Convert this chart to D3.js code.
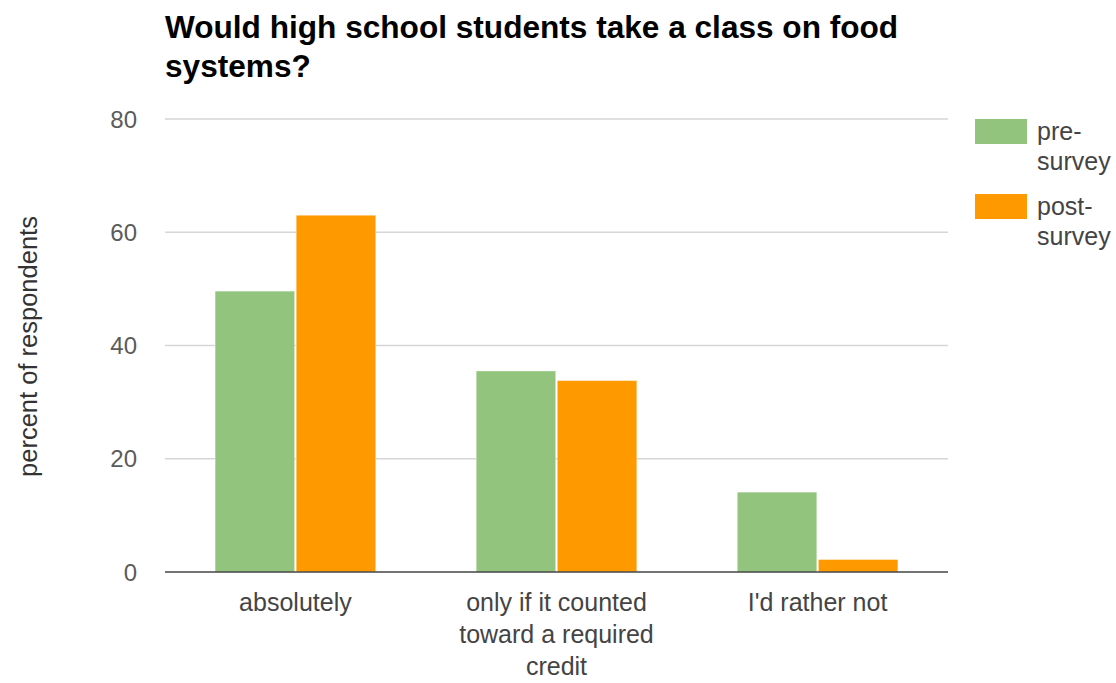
<!DOCTYPE html>
<html>
<head>
<meta charset="utf-8">
<script src="https://cdn.jsdelivr.net/npm/d3@7"></script>
<style>
  body { margin: 0; background: #fff; }
  text { font-family: "Liberation Sans", Arial, sans-serif; }
</style>
</head>
<body>
<div id="chart"></div>
<script>
const categories = ["absolutely", "only if it counted toward a required credit", "I'd rather not"];
const categoryLines = [["absolutely"], ["only if it counted", "toward a required", "credit"], ["I'd rather not"]];
const seriesNames = ["pre-survey", "post-survey"];
const legendLines = [["pre-", "survey"], ["post-", "survey"]];
const preSurvey = [49.6, 35.5, 14.1];
const postSurvey = [63, 33.8, 2.2];
const yTicks = [0, 20, 40, 60, 80];
const colors = ["#93c47d", "#ff9900"];

const width = 1116, height = 683;
const margin = {left: 165, right: 168, top: 119, bottom: 111};

const svg = d3.select("#chart").append("svg")
  .attr("width", width)
  .attr("height", height);

const x0 = d3.scaleBand()
  .domain(categories)
  .range([margin.left, width - margin.right])
  .paddingInner(0.385)
  .paddingOuter(0.192);

const x1 = d3.scaleBand()
  .domain(seriesNames)
  .range([0, x0.bandwidth()])
  .paddingInner(0.02);

const y = d3.scaleLinear()
  .domain([0, 80])
  .range([height - margin.bottom, margin.top]);

// gridlines
svg.append("g")
  .selectAll("line")
  .data(yTicks.filter(d => d !== 0))
  .enter()
  .append("line")
  .attr("x1", margin.left)
  .attr("x2", width - margin.right)
  .attr("y1", d => y(d))
  .attr("y2", d => y(d))
  .attr("stroke", "#d6d6d6")
  .attr("stroke-width", 1.5);

// y tick labels
svg.append("g")
  .selectAll("text")
  .data(yTicks)
  .enter()
  .append("text")
  .attr("x", 137)
  .attr("y", d => y(d))
  .attr("dy", "0.36em")
  .attr("text-anchor", "end")
  .attr("font-size", 24)
  .attr("fill", "#5b5b5b")
  .text(d => d);

// bars
const rows = categories.map((c, i) => ({cat: c, vals: [preSurvey[i], postSurvey[i]]}));
const group = svg.append("g")
  .selectAll("g")
  .data(rows)
  .enter()
  .append("g")
  .attr("transform", d => `translate(${x0(d.cat)},0)`);

group.selectAll("rect")
  .data(d => d.vals.map((v, j) => ({name: seriesNames[j], v: v, j: j})))
  .enter()
  .append("rect")
  .attr("x", d => x1(d.name))
  .attr("width", x1.bandwidth())
  .attr("y", d => y(d.v))
  .attr("height", d => y(0) - y(d.v))
  .attr("fill", d => colors[d.j])
  .attr("stroke", "#fff")
  .attr("stroke-opacity", 0.35)
  .attr("stroke-width", 1);

// baseline
svg.append("line")
  .attr("x1", margin.left)
  .attr("x2", width - margin.right)
  .attr("y1", y(0))
  .attr("y2", y(0))
  .attr("stroke", "#444")
  .attr("stroke-width", 1.5);

// x labels
svg.append("g")
  .selectAll("text")
  .data(categories)
  .enter()
  .append("text")
  .attr("x", d => x0(d) + x0.bandwidth() / 2)
  .attr("y", 611)
  .attr("text-anchor", "middle")
  .attr("font-size", 25)
  .attr("fill", "#444")
  .each(function(d, i) {
    d3.select(this).selectAll("tspan")
      .data(categoryLines[i])
      .enter()
      .append("tspan")
      .attr("x", x0(d) + x0.bandwidth() / 2)
      .attr("dy", (t, k) => k === 0 ? 0 : 32)
      .text(t => t);
  });

// y axis title
svg.append("text")
  .attr("transform", `translate(37,${(y(0) + y(80)) / 2 + 1}) rotate(-90)`)
  .attr("text-anchor", "middle")
  .attr("font-size", 25.5)
  .attr("fill", "#333")
  .text("percent of respondents");

// title
const title = svg.append("text")
  .attr("x", 165)
  .attr("y", 38)
  .attr("font-size", 31.6)
  .attr("font-weight", "bold")
  .attr("fill", "#000");
title.append("tspan").attr("x", 165).attr("dy", 0).text("Would high school students take a class on food");
title.append("tspan").attr("x", 165).attr("dy", 39).text("systems?");

// legend
const legend = svg.append("g")
  .selectAll("g")
  .data(seriesNames)
  .enter()
  .append("g")
  .attr("transform", (d, i) => `translate(975,${119 + i * 75})`);

legend.append("rect")
  .attr("width", 52)
  .attr("height", 25)
  .attr("fill", (d, i) => colors[i]);

legend.append("text")
  .attr("x", 62)
  .attr("y", 21)
  .attr("font-size", 25)
  .attr("fill", "#444")
  .each(function(d, i) {
    d3.select(this).selectAll("tspan")
      .data(legendLines[i])
      .enter()
      .append("tspan")
      .attr("x", 62)
      .attr("dy", (t, k) => k === 0 ? 0 : 30)
      .text(t => t);
  });
</script>
</body>
</html>
